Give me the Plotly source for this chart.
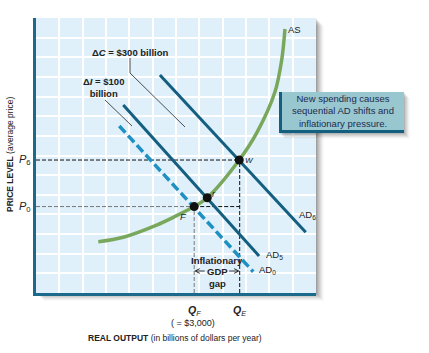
import plotly.graph_objects as go

# ---------------- data ----------------
as_x = [2.67, 3.74, 5.17, 5.88, 6.78, 7.34, 8.71, 9.46, 10.24, 10.53, 10.67]
as_y = [2.61, 2.84, 3.46, 3.85, 4.40, 4.85, 6.77, 8.15, 10.23, 11.86, 13.44]

ad0_x = [3.57, 9.31]
ad0_y = [8.50, 1.08]
ad5_x = [3.74, 9.56]
ad5_y = [9.57, 1.88]
ad6_x = [5.31, 11.56]
ad6_y = [11.10, 3.09]

eq_names = ["F", "r", "W"]
eq_x = [6.78, 7.34, 8.71]
eq_y = [4.40, 4.85, 6.77]

price_labels = ["P<sub>0</sub>", "P<sub>6</sub>"]
price_levels = [4.40, 6.77]
output_labels = ["Q<sub><i>F</i></sub>", "Q<sub><i>E</i></sub>"]
output_levels = [6.78, 8.73]

# ---------------- styling ----------------
FONT = "Liberation Sans Narrow, Arial Narrow, Liberation Sans, Arial, sans-serif"
W, H = 429, 353
L, R, T, B = 36, 316, 18, 293
BG = "#dff0fb"
AXC = "#1b6a8c"
ADC = "#145f80"
AD0C = "#1f90c2"
ASC = "#79a75c"


def pxx(px):
    return (px - L) / (R - L)


def pxy(py):
    return (B - py) / (B - T)


fig = go.Figure()

# dashed guide lines
fig.add_trace(go.Scatter(x=[0, eq_x[0]], y=[price_levels[0]] * 2, mode="lines",
                         line=dict(color="#777", width=1, dash="4px,2px"), hoverinfo="skip"))
fig.add_trace(go.Scatter(x=[eq_x[0], output_levels[1]], y=[price_levels[0]] * 2, mode="lines",
                         line=dict(color="#111", width=1, dash="4px,2px"), hoverinfo="skip"))
fig.add_trace(go.Scatter(x=[0, eq_x[2]], y=[price_levels[1]] * 2, mode="lines",
                         line=dict(color="#111", width=1, dash="4px,2px"), hoverinfo="skip"))
fig.add_trace(go.Scatter(x=[output_levels[0]] * 2, y=[0, eq_y[0]], mode="lines",
                         line=dict(color="#777", width=1, dash="4px,2px"), hoverinfo="skip"))
fig.add_trace(go.Scatter(x=[output_levels[1]] * 2, y=[0, eq_y[2]], mode="lines",
                         line=dict(color="#111", width=1, dash="4px,2px"), hoverinfo="skip"))

# AS curve
fig.add_trace(go.Scatter(x=as_x, y=as_y, mode="lines",
                         line=dict(color=ASC, width=3.5, shape="spline", smoothing=0.9)))
# AD lines
fig.add_trace(go.Scatter(x=ad6_x, y=ad6_y, mode="lines", line=dict(color=ADC, width=3)))
fig.add_trace(go.Scatter(x=ad5_x, y=ad5_y, mode="lines", line=dict(color=ADC, width=3)))
fig.add_trace(go.Scatter(x=ad0_x, y=ad0_y, mode="lines",
                         line=dict(color=AD0C, width=3.5, dash="9px,4px")))
# equilibrium points
fig.add_trace(go.Scatter(x=eq_x, y=eq_y, mode="markers",
                         marker=dict(color="#111", size=9)))

shapes = []
# plot-area drop shadow
for i, op in enumerate([0.09, 0.08, 0.07, 0.06, 0.05, 0.04, 0.03, 0.02]):
    d = i + 1
    shapes.append(dict(type="rect", xref="paper", yref="paper",
                       x0=pxx(L + d), x1=pxx(R + d), y0=pxy(B + d), y1=pxy(T + d),
                       fillcolor=f"rgba(0,0,0,{op})", line=dict(width=0), layer="below"))
shapes.append(dict(type="rect", xref="paper", yref="paper", x0=0, x1=1, y0=0, y1=1,
                   fillcolor=BG, line=dict(width=0), layer="below"))

# leader lines
shapes.append(dict(type="path", xref="paper", yref="paper",
                   path=f"M{pxx(130)},{pxy(58)} L{pxx(130)},{pxy(73)} L{pxx(185)},{pxy(127)}",
                   line=dict(color="#222", width=0.8), layer="above"))
shapes.append(dict(type="line", xref="paper", yref="paper",
                   x0=pxx(105), y0=pxy(100), x1=pxx(132), y1=pxy(126),
                   line=dict(color="#222", width=0.8), layer="above"))

# callout box with shadow
bx0, bx1, by0, by1 = 279, 404, 92, 133
for i, op in enumerate([0.09, 0.07, 0.06, 0.05, 0.03, 0.02]):
    d = i + 1
    shapes.append(dict(type="rect", xref="paper", yref="paper",
                       x0=pxx(bx0 + d), x1=pxx(bx1 + d), y0=pxy(by1 + d), y1=pxy(by0 + d),
                       fillcolor=f"rgba(0,0,0,{op})", line=dict(width=0), layer="above"))
shapes.append(dict(type="rect", xref="paper", yref="paper",
                   x0=pxx(bx0), x1=pxx(bx1), y0=pxy(by1), y1=pxy(by0),
                   fillcolor="#99c7d0", line=dict(width=0), layer="above"))
shapes.append(dict(type="rect", xref="paper", yref="paper",
                   x0=pxx(bx0), x1=pxx(bx0 + 3), y0=pxy(by1), y1=pxy(by0),
                   fillcolor=ADC, line=dict(width=0), layer="above"))
shapes.append(dict(type="rect", xref="paper", yref="paper",
                   x0=pxx(bx0), x1=pxx(bx1), y0=pxy(by1), y1=pxy(by1 - 3),
                   fillcolor=ADC, line=dict(width=0), layer="above"))

ann = []


def txt(text, px, py, size=9, xanchor="center", color="#222", angle=0):
    ann.append(dict(text=text, xref="paper", yref="paper", x=pxx(px), y=pxy(py),
                    xanchor=xanchor, yanchor="middle", showarrow=False, textangle=angle,
                    font=dict(family=FONT, size=size, color=color)))


txt("AS", 286, 30, 9.5, "left")
txt("AD<sub>6</sub>", 297, 215, 9.5, "left")
txt("AD<sub>5</sub>", 264, 255, 9.5, "left")
txt("AD<sub>0</sub>", 257, 270, 9.5, "left")
txt("<i>W</i>", 243, 160, 8, "left")
txt("<i>r</i>", 210, 194, 9, "left")
txt("<i>F</i>", 189, 216, 9.5, "right")
txt("<b>Δ<i>C</i> = $300 billion</b>", 130, 52, 9.5)
txt("<b>Δ<i>I</i> = $100<br>billion</b>", 103, 88, 9.5)
txt("New spending causes<br>sequential AD shifts and<br>inflationary pressure.", 343, 111, 9.5,
    color="#1d2b4f")
txt("<b>Inflationary</b>", 217, 260, 9.5)
txt("<b>GDP</b>", 217, 271, 9.5)
txt("<b>gap</b>", 217, 283, 9.5)
for lab, lv in zip(price_labels, price_levels):
    ann.append(dict(text=f"<i>{lab[0]}</i>{lab[1:]}", xref="paper", yref="y", x=pxx(33), y=lv,
                    xanchor="right", yanchor="middle", showarrow=False,
                    font=dict(family=FONT, size=11, color="#222")))
for lab, lv in zip(output_labels, output_levels):
    ann.append(dict(text=f"<b><i>Q</i></b>{lab[1:]}", xref="x", yref="paper", x=lv, y=pxy(311),
                    xanchor="center", yanchor="middle", showarrow=False,
                    font=dict(family=FONT, size=10.5, color="#222")))
txt("( = $3,000)", 193, 323, 9)
txt("<b>REAL OUTPUT</b> (in billions of dollars per year)", 175, 338, 8.5)
txt("<b>PRICE LEVEL</b> (average price)", 10, 155, 8.5, angle=-90)

# GDP gap arrows
for head, off in [(output_levels[0], 12), (output_levels[1], -12)]:
    ann.append(dict(text="", x=head, y=pxy(271), xref="x", yref="paper", showarrow=True,
                    ax=off, ay=0, arrowhead=5, arrowsize=1, arrowwidth=0.9, arrowcolor="#222"))

fig.update_layout(
    width=W, height=H, margin=dict(l=L, r=W - R, t=T, b=H - B),
    paper_bgcolor="white", plot_bgcolor="rgba(0,0,0,0)", showlegend=False,
    shapes=shapes, annotations=ann,
    xaxis=dict(range=[0, 12], dtick=1, showticklabels=False, ticks="", gridcolor="white",
               gridwidth=1.6, zeroline=False, showline=True, linecolor=AXC, linewidth=3,
               fixedrange=True),
    yaxis=dict(range=[0, 14], dtick=1, showticklabels=False, ticks="", gridcolor="white",
               gridwidth=1.6, zeroline=False, showline=True, linecolor=AXC, linewidth=3,
               fixedrange=True),
)

fig.write_html("out.html")
